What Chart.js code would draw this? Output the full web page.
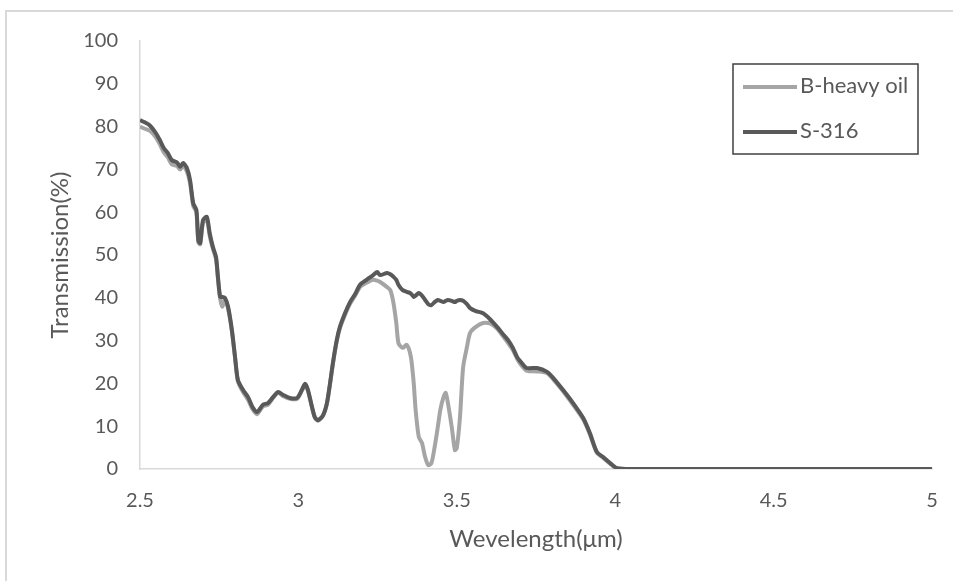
<!DOCTYPE html>
<html>
<head>
<meta charset="utf-8">
<script src="https://cdn.jsdelivr.net/npm/chart.js@4/dist/chart.umd.min.js"></script>
<style>
  html, body { margin: 0; padding: 0; background: #fff; }
  #wrap { width: 953px; height: 581px; position: relative; }
</style>
</head>
<body>
<div id="wrap"><canvas id="spectrumChart" width="953" height="581"></canvas></div>
<script>
// wavelength in micrometres, shared by both series
const wavelengths = [
  2.500, 2.515, 2.532, 2.550, 2.563, 2.575, 2.588, 2.600, 2.617, 2.627,
  2.636, 2.648, 2.658, 2.668, 2.678, 2.684, 2.690, 2.699, 2.711, 2.720,
  2.730, 2.740, 2.746, 2.753, 2.760, 2.768, 2.778, 2.790, 2.800, 2.809,
  2.825, 2.841, 2.855, 2.869, 2.888, 2.904, 2.920, 2.936, 2.952, 2.973,
  2.996, 3.011, 3.021, 3.030, 3.043, 3.052, 3.062, 3.078, 3.090, 3.100,
  3.109, 3.121, 3.131, 3.147, 3.163, 3.180, 3.194, 3.215, 3.236, 3.249,
  3.258, 3.280, 3.290, 3.300, 3.309, 3.316, 3.329, 3.342, 3.355, 3.364,
  3.370, 3.380, 3.390, 3.400, 3.410, 3.420, 3.430, 3.440, 3.448, 3.458,
  3.465, 3.472, 3.484, 3.494, 3.500, 3.510, 3.520, 3.532, 3.542, 3.560,
  3.583, 3.605, 3.627, 3.646, 3.663, 3.677, 3.690, 3.700, 3.720, 3.753,
  3.785, 3.804, 3.835, 3.867, 3.899, 3.920, 3.942, 3.962, 3.984, 4.006,
  4.050, 4.500, 5.000
];
const bHeavyOil = [
  80.0, 79.5, 79.0, 77.5, 75.8, 74.0, 72.8, 71.2, 70.8, 70.0,
  70.8, 69.5, 66.8, 61.5, 60.0, 53.0, 52.5, 57.5, 58.3, 54.5,
  51.5, 49.0, 44.5, 39.8, 37.9, 39.5, 37.5, 32.2, 26.0, 20.5,
  18.0, 16.2, 14.0, 12.8, 14.6, 15.0, 16.6, 17.8, 17.0, 16.4,
  16.4, 18.3, 19.6, 18.3, 14.3, 12.0, 11.3, 12.5, 15.2, 19.9,
  24.6, 29.8, 32.9, 36.0, 38.6, 40.6, 42.5, 43.5, 44.2, 44.0,
  43.7, 42.5, 41.8, 38.8, 34.1, 29.4, 28.3, 29.0, 26.2, 20.1,
  13.8, 7.5, 6.1, 2.8, 0.9, 1.4, 5.1, 9.8, 13.8, 16.8,
  17.8, 15.4, 9.8, 4.4, 4.9, 12.1, 23.8, 28.5, 31.8, 33.2,
  34.1, 34.0, 32.8, 31.0, 29.3, 27.8, 25.8, 24.6, 23.0, 22.8,
  22.4, 21.0, 18.2, 15.0, 11.6, 8.1, 3.8, 2.6, 1.2, 0.1,
  0, 0, 0
];
const s316 = [
  81.5, 81.0, 80.2, 78.5, 76.8, 75.0, 73.8, 72.2, 71.6, 70.6,
  71.5, 70.3, 67.5, 62.1, 60.5, 53.5, 52.8, 58.2, 58.9, 55.1,
  51.9, 49.5, 44.9, 40.2, 40.2, 40.0, 37.9, 32.5, 26.2, 20.8,
  18.5, 16.8, 14.5, 13.3, 15.0, 15.4, 16.8, 18.0, 17.3, 16.6,
  16.6, 18.5, 19.9, 18.5, 14.5, 12.1, 11.4, 12.6, 15.4, 20.1,
  24.8, 30.1, 33.2, 36.4, 39.0, 41.0, 43.0, 44.2, 45.3, 46.0,
  45.3, 45.8, 45.5, 44.9, 44.2, 43.0, 41.8, 41.4, 41.0, 40.2,
  40.5, 41.1, 40.5, 39.5, 38.5, 38.3, 39.0, 39.5, 39.3, 39.0,
  39.3, 39.5, 39.3, 39.0, 39.3, 39.5, 39.3, 38.5, 37.6, 36.9,
  36.4, 35.0, 33.2, 31.5, 30.0, 28.3, 26.2, 25.2, 23.6, 23.6,
  22.7, 21.3, 18.5, 15.4, 11.9, 8.4, 4.0, 2.8, 1.4, 0.2,
  0, 0, 0
];
const seriesNames = ["B-heavy oil", "S-316"];
const xTicks = [2.5, 3, 3.5, 4, 4.5, 5];
const yTicks = [0, 10, 20, 30, 40, 50, 60, 70, 80, 90, 100];

const textColor = "#595959";
const fontFamily = "Lato, 'Open Sans', sans-serif";

function toPoints(values) {
  return wavelengths.map((w, i) => ({ x: w, y: values[i] }));
}

// light grey frame around the whole chart
const framePlugin = {
  id: "frame",
  beforeDraw: function (chart) {
    const ctx = chart.ctx;
    ctx.save();
    ctx.strokeStyle = "#d9d9d9";
    ctx.lineWidth = 2;
    ctx.strokeRect(6, 11, chart.width + 20, chart.height + 20);
    ctx.restore();
  },
};

// boxed legend sitting inside the plot, top right
const boxLegendPlugin = {
  id: "boxLegend",
  afterDraw: function (chart) {
    const ctx = chart.ctx;
    ctx.save();
    ctx.strokeStyle = "#404040";
    ctx.lineWidth = 1.5;
    ctx.strokeRect(733, 64, 185, 90);
    chart.data.datasets.forEach(function (ds, i) {
      const y = 87 + i * 45;
      ctx.strokeStyle = ds.borderColor;
      ctx.lineWidth = 4;
      ctx.beginPath();
      ctx.moveTo(743, y);
      ctx.lineTo(797, y);
      ctx.stroke();
      ctx.fillStyle = textColor;
      ctx.font = "22px " + fontFamily;
      ctx.textBaseline = "middle";
      ctx.textAlign = "left";
      ctx.fillText(ds.label, 800, y - 1);
    });
    ctx.restore();
  },
};

new Chart(document.getElementById("spectrumChart").getContext("2d"), {
  type: "line",
  data: {
    datasets: [
      {
        label: seriesNames[0],
        data: toPoints(bHeavyOil),
        borderColor: "#a5a5a5",
        borderWidth: 4,
        pointRadius: 0,
        tension: 0.25,
        order: 1,
      },
      {
        label: seriesNames[1],
        data: toPoints(s316),
        borderColor: "#595959",
        borderWidth: 4,
        pointRadius: 0,
        tension: 0.25,
        order: 0,
      },
    ],
  },
  options: {
    responsive: false,
    animation: false,
    layout: { padding: { left: 0, top: 41, right: 21, bottom: 0 } },
    plugins: {
      legend: { display: false },
      tooltip: { enabled: false },
    },
    scales: {
      x: {
        type: "linear",
        min: 2.5,
        max: 5,
        afterBuildTicks: function (scale) {
          scale.ticks = xTicks.map((v) => ({ value: v }));
        },
        afterFit: function (scale) {
          scale.height = 112;
          scale.paddingLeft = 0;
          scale.paddingRight = 0;
        },
        grid: { display: false, drawTicks: false },
        border: { color: "#d9d9d9", width: 1.5 },
        ticks: {
          color: textColor,
          font: { family: fontFamily, size: 20 },
          padding: 20,
          maxRotation: 0,
          callback: function (value) {
            return String(value);
          },
        },
        title: {
          display: true,
          text: "Wevelength(μm)",
          color: textColor,
          font: { family: fontFamily, size: 24 },
          padding: { bottom: 27 },
        },
      },
      y: {
        min: 0,
        max: 100,
        afterBuildTicks: function (scale) {
          scale.ticks = yTicks.map((v) => ({ value: v }));
        },
        afterFit: function (scale) {
          scale.width = 140;
        },
        grid: { display: false, drawTicks: false },
        border: { color: "#d9d9d9", width: 1.5 },
        ticks: {
          color: textColor,
          font: { family: fontFamily, size: 20 },
          padding: 22,
        },
        title: {
          display: true,
          text: "Transmission(%)",
          color: textColor,
          font: { family: fontFamily, size: 24 },
          padding: { top: 46 },
        },
      },
    },
  },
  plugins: [framePlugin, boxLegendPlugin],
});
</script>
</body>
</html>
